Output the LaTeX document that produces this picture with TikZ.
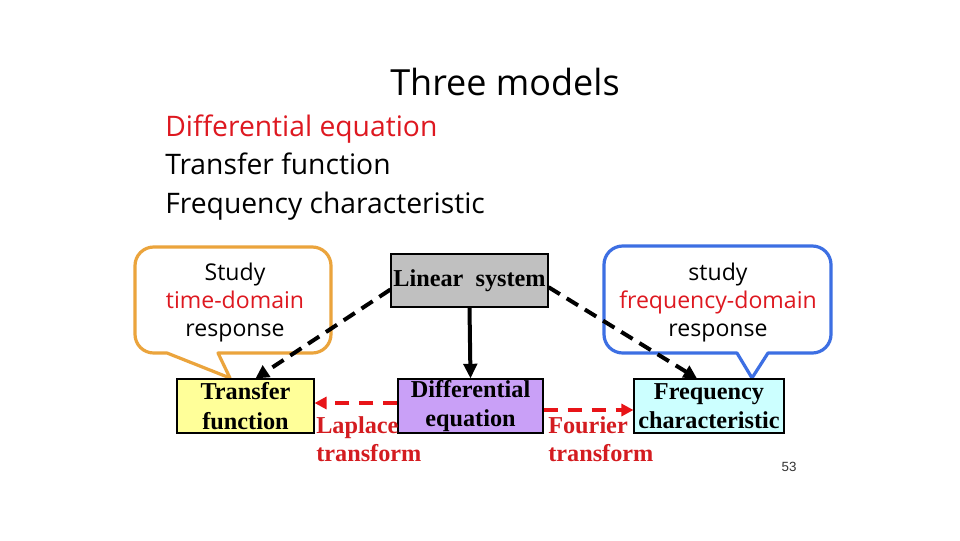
\documentclass[tikz,border=0pt]{standalone}
\usepackage{fontspec}
\setmainfont{Liberation Serif}
\newfontfamily\comic{Open Sans}
\newfontfamily\arialf{Liberation Sans}
\usetikzlibrary{arrows.meta}
\definecolor{txtred}{RGB}{222,24,32}
\definecolor{lblred}{RGB}{212,28,32}
\definecolor{arrred}{RGB}{232,20,24}
\definecolor{calor}{RGB}{235,164,60}
\definecolor{calbl}{RGB}{61,111,227}
\definecolor{lsgray}{RGB}{192,192,192}
\definecolor{tfyel}{RGB}{255,255,153}
\definecolor{depur}{RGB}{201,160,247}
\definecolor{fccy}{RGB}{204,255,255}
\tikzset{
  modelbox/.style={draw=black, line width=0.8pt, minimum height=40.5pt, inner sep=0pt, align=center,
    font=\fontsize{18.2}{22}\selectfont\bfseries},
  comictxt/.style={font=\comic\fontsize{17.3}{21}\selectfont, align=center, inner sep=0pt},
  listtxt/.style={font=\comic\fontsize{21.2}{24}\selectfont, anchor=base west, inner sep=0pt},
  blackdash/.style={line width=3pt, dash pattern=on 10pt off 6pt, -{Triangle[length=10pt,width=10pt]}},
  reddash/.style={draw=arrred, line width=2.6pt, dash pattern=on 11pt off 7pt, -{Triangle[length=9pt,width=9pt]}},
  redlbl/.style={text=lblred, font=\fontsize{18.2}{20.5}\selectfont\bfseries, align=left, inner sep=0pt, anchor=base west},
  callout/.style={line width=2.4pt, fill=white, line join=round}
}
\begin{document}
\begin{tikzpicture}[x=0.75pt,y=-0.75pt]
\useasboundingbox (0,0) rectangle (960,540);
\fill[white] (0,0) rectangle (960,540);

% title and list
\node[font=\comic\fontsize{27}{32}\selectfont, inner sep=0pt, anchor=base] (title) at (505,95) {Three models};
\node[listtxt, text=txtred] (l1) at (165,136) {Differential equation};
\node[listtxt] (l2) at (165,174) {Transfer function};
\node[listtxt] (l3) at (165,213) {Frequency characteristic};

% callouts
\draw[callout, draw=calor] (218,353) -- (230,378) -- (167,353) [rounded corners=14pt] -- (135,353) -- (135,247) -- (331,247) -- (331,353) [sharp corners] -- cycle;
\draw[callout, draw=calbl] (768,353) -- (752,378) -- (737,353) [rounded corners=14pt] -- (604,353) -- (604,246) -- (831,246) -- (831,353) [sharp corners] -- cycle;
\node[comictxt] (ct1) at (235,302) {Study\\\textcolor{txtred}{time-domain}\\response};
\node[comictxt] (ct2) at (718,302) {study\\\textcolor{txtred}{frequency-domain}\\response};

% boxes
\node[modelbox, fill=lsgray, minimum width=117.75pt, minimum height=39.75pt] (LS) at (469.5,280.5) {Linear\ \ system};
\node[modelbox, fill=tfyel, minimum width=102.75pt] (TF) at (245.5,406) {Transfer\\function};
\node[modelbox, fill=depur, minimum width=108.75pt] (DE) at (470.5,406) {Differential\\equation};
\node[modelbox, fill=fccy, minimum width=112.5pt] (FC) at (709,406) {Frequency\\characteristic};

% arrows
\draw[line width=3pt, -{Triangle[length=11pt,width=10pt]}] (LS.south) -- (DE.north);
\draw[blackdash] ([yshift=-6.75pt]LS.west) -- ([xshift=7.5pt]TF.north);
\draw[blackdash] ([yshift=-5pt]LS.east) -- ([xshift=-9pt]FC.north);
\draw[reddash] ([yshift=2.25pt]DE.west) -- ([yshift=2.25pt]TF.east);
\draw[reddash] ([yshift=-3pt]DE.east) -- ([yshift=-3pt]FC.west);

% labels
\node[redlbl] (lap) at (316,461) {Laplace\\transform};
\node[redlbl] (fou) at (548,461) {Fourier\\transform};
\node[font=\arialf\fontsize{10}{12}\selectfont, text=black!80, inner sep=0pt] (pg) at (789,467) {53};
\end{tikzpicture}
\end{document}
